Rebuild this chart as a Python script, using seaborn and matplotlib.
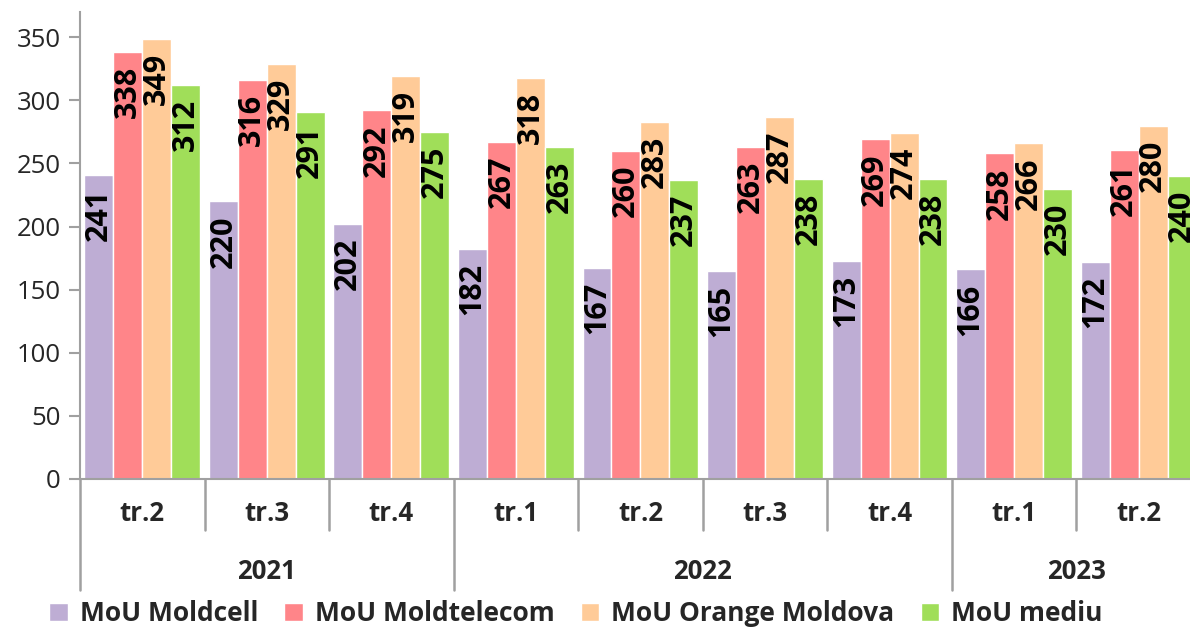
import pandas as pd
import numpy as np
import matplotlib.pyplot as plt
import matplotlib.transforms as mtransforms
import seaborn as sns

quarters = ["tr.2", "tr.3", "tr.4", "tr.1", "tr.2", "tr.3", "tr.4", "tr.1", "tr.2"]
years = ["2021", "2021", "2021", "2022", "2022", "2022", "2022", "2023", "2023"]
series = ["MoU Moldcell", "MoU Moldtelecom", "MoU Orange Moldova", "MoU mediu"]
moldcell = [241, 220, 202, 182, 167, 165, 173, 166, 172]
moldtelecom = [338, 316, 292, 267, 260, 263, 269, 258, 261]
orange = [349, 329, 319, 318, 283, 287, 274, 266, 280]
mediu = [312, 291, 275, 263, 237, 238, 238, 230, 240]
colors = ["#BEADD4", "#FF8589", "#FFCB98", "#A0DE59"]

periods = [f"{y} {q}" for y, q in zip(years, quarters)]
df = pd.DataFrame({
    "period": periods * 4,
    "serie": np.repeat(series, len(periods)),
    "value": moldcell + moldtelecom + orange + mediu,
})

sns.set_theme(style="white")
plt.rcParams["font.family"] = ["Open Sans", "DejaVu Sans"]

fig = plt.figure(figsize=(11.9, 6.29), dpi=100)
ax = fig.add_axes([0.0672, 0.2385, 0.942, 0.7424])

sns.barplot(data=df, x="period", y="value", hue="serie", palette=colors,
            width=0.93, gap=0, ax=ax, legend=True, saturation=1)

for container, vals in zip(ax.containers, [moldcell, moldtelecom, orange, mediu]):
    for bar, v in zip(container, vals):
        ax.annotate(str(v), (bar.get_x() + bar.get_width() / 2, bar.get_height()),
                    xytext=(0, -10), textcoords="offset points", rotation=90,
                    ha="center", va="top", fontsize=22, fontweight="bold", color="black")

ax.set_xlim(-0.5, 8.5)
ax.set_ylim(0, 370)
ax.set_yticks(range(0, 351, 50))
ax.set_xticks(range(len(quarters)), quarters)
ax.set_xlabel("")
ax.set_ylabel("")
ax.tick_params(axis="y", labelsize=18.5, length=8, width=1.5, color="#A0A0A0",
               direction="out", left=True, pad=6)
ax.tick_params(axis="x", labelsize=18.5, length=0, pad=15)
for lbl in ax.get_xticklabels():
    lbl.set_fontweight("bold")

for s in ["top", "right"]:
    ax.spines[s].set_visible(False)
for s in ["left", "bottom"]:
    ax.spines[s].set_color("#A0A0A0")
    ax.spines[s].set_linewidth(1.5)

# two-level category axis
trans = mtransforms.blended_transform_factory(ax.transData, ax.transAxes)
for i in range(len(quarters) + 1):
    x = i - 0.5
    year_edge = i == 0 or i == len(quarters) or years[i] != years[i - 1]
    y_end = -0.238 if year_edge else -0.109
    ax.plot([x, x], [0, y_end], transform=trans, color="#A0A0A0", lw=1.8,
            clip_on=False)

for yr in dict.fromkeys(years):
    idx = [i for i, y in enumerate(years) if y == yr]
    ax.text(np.mean(idx), -0.199, yr, transform=trans, ha="center", va="center",
            fontsize=18.5, fontweight="bold")

handles, labels = ax.get_legend_handles_labels()
ax.legend_.remove()
fig.legend(handles, labels, loc="lower center", bbox_to_anchor=(0.484, -0.035),
           ncol=4, frameon=False, handlelength=0.7, handleheight=0.7,
           handletextpad=0.45, columnspacing=1.0,
           prop={"size": 19, "weight": "bold"})

fig.savefig("out.png", dpi=100)
